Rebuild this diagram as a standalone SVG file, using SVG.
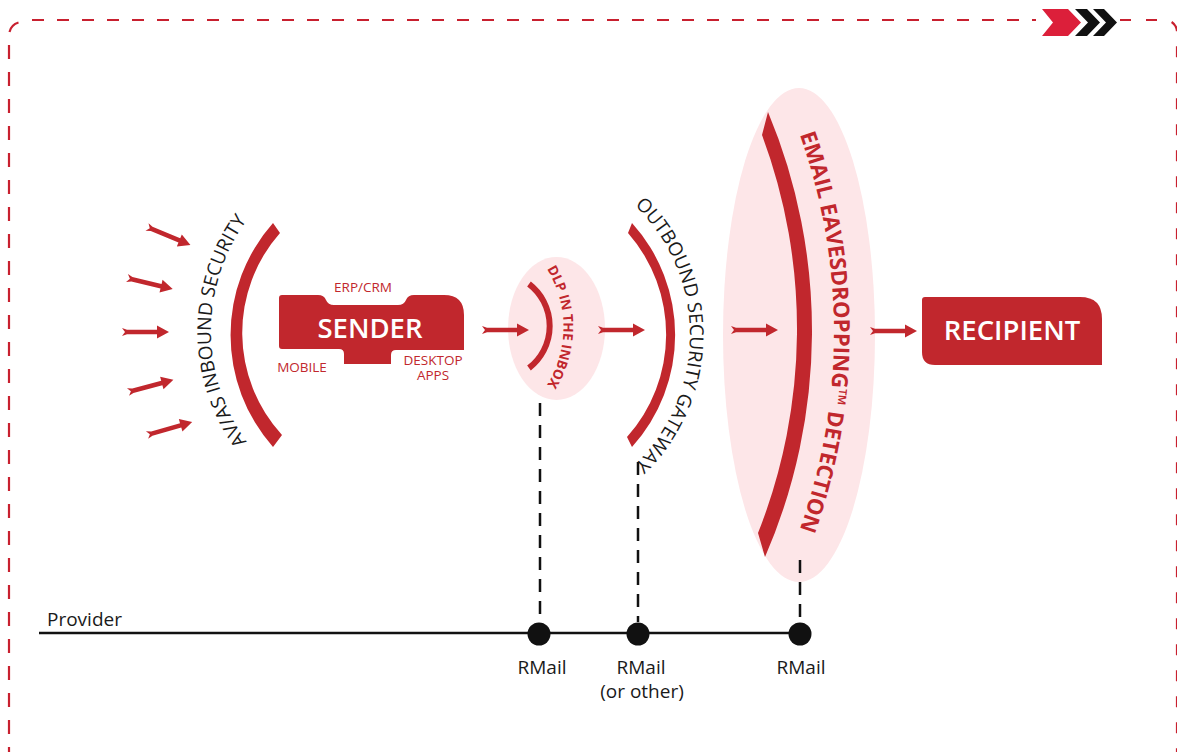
<svg xmlns="http://www.w3.org/2000/svg" xmlns:xlink="http://www.w3.org/1999/xlink" width="1177" height="752" viewBox="0 0 1177 752">
<style>
  .red{fill:#c1272d}
  .pink{fill:#fde6e8}
  .border{fill:none;stroke:#c8202f;stroke-width:2.2}
  .dash{stroke:#111;stroke-width:2.5;stroke-dasharray:13 9;fill:none}
  .t{font-family:"Open Sans","Liberation Sans",sans-serif}
  .lbl{font-family:"Open Sans","Liberation Sans",sans-serif;font-size:19px;fill:#1a1a1a}
  .small{font-family:"Open Sans","Liberation Sans",sans-serif;font-size:13.5px;fill:#c1272d}
  .white{font-family:"Open Sans","Liberation Sans",sans-serif;font-weight:600;fill:#fff;font-size:27.5px}
</style>
<defs>
  <path id="arr" d="M0,-4 L5,-2.3 H35 V-6.5 L47,0 L35,6.5 V2.3 H5 L0,4 L3,0 Z"/>
  <path id="pAvas" d="M305.5,494.7 A189,189 0 0 1 305.5,167.3"/>
  <path id="pDlp" d="M524.4,243.1 A109.5,109.5 0 0 1 524.4,410.9"/>
  <path id="pOut" d="M571.6,165.9 A180,180 0 0 1 571.6,504.1"/>
  <path id="pEave" d="M755.6,39.5 A585,585 0 0 1 755.6,624.5"/>
</defs>
<rect width="1177" height="752" fill="#fff"/>

<g id="frame">
  <path class="border" d="M32,20 H1036" stroke-dasharray="12 13"/>
  <path class="border" d="M9,45 V760" stroke-dasharray="14 13"/>
  <path class="border" d="M9.5,32 A13,13 0 0 1 18.5,22.5"/>
  <path class="border" d="M1120,20 H1165 A12,12 0 0 1 1177,32 V760" stroke-dasharray="11 15"/>
  <polygon points="1042,9 1068,9 1081,22.5 1068,36 1042,36 1053,22.5" fill="#dc1f3a"/>
  <polygon points="1075,9 1087,9 1100,22.5 1087,36 1075,36 1088,22.5" fill="#111"/>
  <polygon points="1093,9 1104,9 1117,22.5 1104,36 1093,36 1106,22.5" fill="#111"/>
</g>

<g id="eavesdropping">
  <ellipse class="pink" cx="799" cy="335" rx="76" ry="247"/>
  <path class="red" d="M768,112 A567,567 0 0 1 765,557 L758,533 A554,554 0 0 0 762,135 Z"/>
  <text class="t" font-size="22" font-weight="700" fill="#c1272d"><textPath href="#pEave" startOffset="50%" text-anchor="middle">EMAIL EAVESDROPPING™ DETECTION</textPath></text>
</g>

<g id="dlp">
  <ellipse class="pink" cx="556.5" cy="328.5" rx="48.5" ry="71.5"/>
  <path d="M529,284 A53,53 0 0 1 529,368" fill="none" stroke="#c1272d" stroke-width="6"/>
  <text class="t" font-size="13.5" font-weight="700" fill="#c1272d"><textPath href="#pDlp" startOffset="50%" text-anchor="middle">DLP IN THE INBOX</textPath></text>
</g>

<g id="avas">
  <path class="red" d="M273,223 A169,169 0 0 0 273,447 L282,435 A151,151 0 0 1 280,233 Z"/>
  <text class="t" font-size="19" fill="#1a1a1a"><textPath href="#pAvas" startOffset="50%" text-anchor="middle">AV/AS INBOUND SECURITY</textPath></text>
</g>

<g id="outbound">
  <path class="red" d="M632,223 A167,167 0 0 1 632,447 L627,437 A154,154 0 0 0 628,233 Z"/>
  <text class="t" font-size="19" fill="#1a1a1a"><textPath href="#pOut" startOffset="50%" text-anchor="middle">OUTBOUND SECURITY GATEWAY</textPath></text>
</g>

<g id="sender">
  <path class="red" d="M279,298 Q279,295 282,295 H318 Q324,295 326,300 Q328,305 334,305 H398 Q404,305 406,300 Q408,295 414,295 H444 Q464,295 464,315 V350 H396 Q391,350 391,355 V364 H344 V354 Q344,349 339,349 H282 Q279,349 279,346 Z"/>
  <text class="white" x="370" y="338" text-anchor="middle">SENDER</text>
  <text class="small" x="363" y="292" text-anchor="middle">ERP/CRM</text>
  <text class="small" x="302" y="372" text-anchor="middle" font-size="13">MOBILE</text>
  <text class="small" x="433" y="365" text-anchor="middle" font-size="13">DESKTOP</text>
  <text class="small" x="433" y="380" text-anchor="middle" font-size="13">APPS</text>
</g>

<g id="recipient">
  <path class="red" d="M925,297 H1080 Q1102,297 1102,319 V365 H935 Q922,365 922,352 V300 Q922,297 925,297 Z"/>
  <text class="white" x="1012" y="340" text-anchor="middle">RECIPIENT</text>
</g>

<g id="connectors">
  <g class="red">
    <use href="#arr" transform="translate(147,227) rotate(22.5)"/>
    <use href="#arr" transform="translate(127,278) rotate(13.5)"/>
    <use href="#arr" transform="translate(122,332)"/>
    <use href="#arr" transform="translate(128,392) rotate(-15)"/>
    <use href="#arr" transform="translate(147,435) rotate(-16)"/>
    <use href="#arr" transform="translate(482,330)"/>
    <use href="#arr" transform="translate(598,330)"/>
    <use href="#arr" transform="translate(731,330)"/>
    <use href="#arr" transform="translate(870,331)"/>
  </g>
  <path class="dash" d="M540,403 V622"/>
  <path class="dash" d="M638,462 V622"/>
  <path class="dash" d="M800,560 V622"/>
  <path d="M39,633 H800" stroke="#111" stroke-width="2.5" fill="none"/>
</g>

<g id="provider">
  <text class="lbl" x="47" y="626">Provider</text>
</g>

<g id="rmail1">
  <circle cx="539" cy="634" r="11.5" fill="#111"/>
  <text class="lbl" x="542" y="674" text-anchor="middle">RMail</text>
</g>
<g id="rmail2">
  <circle cx="638" cy="634" r="11.5" fill="#111"/>
  <text class="lbl" x="641" y="674" text-anchor="middle">RMail</text>
  <text class="lbl" x="642" y="698" text-anchor="middle">(or other)</text>
</g>
<g id="rmail3">
  <circle cx="800" cy="634" r="11.5" fill="#111"/>
  <text class="lbl" x="801" y="674" text-anchor="middle">RMail</text>
</g>
</svg>
